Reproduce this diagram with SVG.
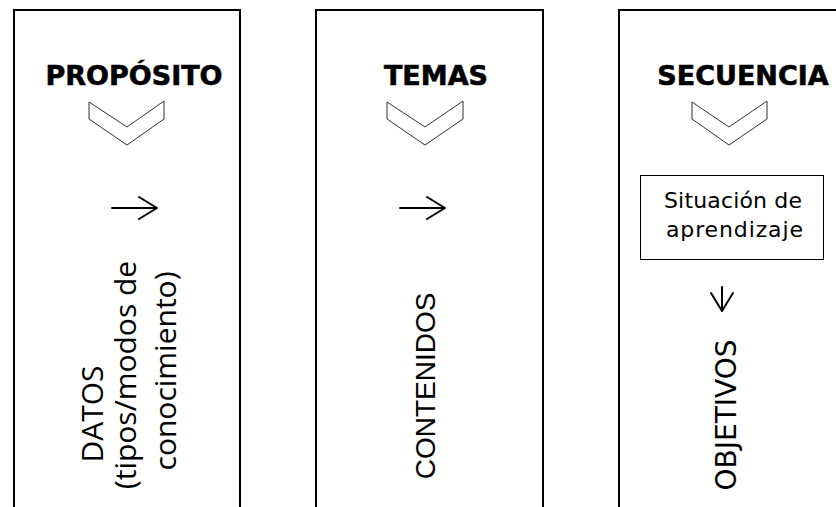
<svg xmlns="http://www.w3.org/2000/svg" width="836" height="507" viewBox="0 0 836 507">
<style>
.col{fill:none;stroke:#000;stroke-width:2}
.chev{fill:#fff;stroke:#333;stroke-width:1}
.title{font-family:"DejaVu Sans",Verdana,sans-serif;font-weight:bold;font-size:27px;fill:#000;text-anchor:middle;stroke:#000;stroke-width:0.6}
.arr{fill:none;stroke:#000;stroke-width:2;stroke-linecap:round;stroke-linejoin:round}
.vt{font-family:"Open Sans",sans-serif;font-size:30px;fill:#000;text-anchor:middle}
.box{fill:#fff;stroke:#000;stroke-width:1}
.sit{font-family:"DejaVu Sans",Verdana,sans-serif;font-size:22px;fill:#000}
</style>
<rect x="0" y="0" width="836" height="507" fill="#fff"/>
<g id="col-proposito">
<rect class="col" x="14" y="10" width="226" height="520"/>
<text class="title" x="134" y="85">PROPÓSITO</text>
<polygon class="chev" points="89,102 127,127 164,101 164,119 127,145 89,119"/>
<text class="vt" transform="rotate(-90)"><tspan x="-414" y="103">DATOS</tspan><tspan x="-375" y="136">(tipos/modos de</tspan><tspan x="-371" y="176">conocimiento)</tspan></text>
</g>
<g id="col-temas">
<rect class="col" x="316" y="10" width="227" height="520"/>
<text class="title" x="436" y="85">TEMAS</text>
<polygon class="chev" points="387,102 425,127 463,101 463,119 425,145 387,119"/>
<text class="vt" style="font-family:'Liberation Sans',Arial,sans-serif;font-size:28px" transform="rotate(-90)" x="-386" y="435">CONTENIDOS</text>
</g>
<g id="col-secuencia">
<rect class="col" x="619" y="10" width="240" height="520"/>
<text class="title" x="743" y="85">SECUENCIA</text>
<polygon class="chev" points="692,102 729,127 767,101 767,119 729,145 692,119"/>
<text class="vt" style="font-family:'DejaVu Sans',Verdana,sans-serif;font-size:28px" transform="rotate(-90)" x="-415" y="736">OBJETIVOS</text>
</g>
<g id="situacion">
<rect class="box" x="640.5" y="175.5" width="183" height="84"/>
<text class="sit" x="664" y="208" textLength="138" lengthAdjust="spacing">Situación de</text>
<text class="sit" x="666" y="237" textLength="137" lengthAdjust="spacing">aprendizaje</text>
</g>
<g id="connectors">
<path class="arr" d="M112,208 H157 M139,197 L157,208 L139,219"/>
<path class="arr" d="M400,208 H445 M427,197 L445,208 L427,219"/>
<path class="arr" d="M722,287 V311 M711,293 L722,311 L733,293"/>
</g>
</svg>
